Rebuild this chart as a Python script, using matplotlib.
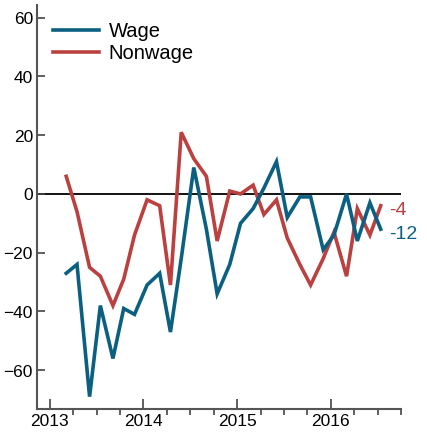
import matplotlib
matplotlib.use('Agg')
import matplotlib.pyplot as plt
import numpy as np
from datetime import date

plt.rcParams['font.family'] = ['Liberation Sans', 'DejaVu Sans']

# Beige Book release dates (8 per year)
dates = [
    '2013-03-06', '2013-04-17', '2013-06-05', '2013-07-17', '2013-09-04', '2013-10-16', '2013-11-27',
    '2014-01-15', '2014-03-05', '2014-04-16', '2014-05-28', '2014-07-16', '2014-09-03', '2014-10-15', '2014-12-03',
    '2015-01-14', '2015-03-04', '2015-04-15', '2015-06-03', '2015-07-15', '2015-09-02', '2015-10-14', '2015-12-02',
    '2016-01-13', '2016-03-02', '2016-04-13', '2016-06-01', '2016-07-13',
]
wage = [-27, -24, -69, -38, -56, -39, -41,
        -31, -27, -47, -22, 9, -12, -34, -24,
        -10, -5, 2, 11, -8, -1, -1,
        -19, -14, 0, -16, -3, -12]
nonwage = [6, -6, -25, -28, -38, -29, -14,
           -2, -4, -31, 21, 12, 6, -16, 1,
           0, 3, -7, -2, -15, -24, -31,
           -22, -13, -28, -5, -14, -4]
year_ticks = [2013, 2014, 2015, 2016]
wage_color = '#0b6082'
nonwage_color = '#bb4141'


def dec_year(s):
    d = date.fromisoformat(s)
    start = date(d.year, 1, 1)
    return d.year + (d - start).days / 365.0


x = np.array([dec_year(s) for s in dates])

fig = plt.figure(figsize=(4.275, 4.335), dpi=100)
ax = fig.add_axes([37 / 427, 1 - 409 / 433, (400.7 - 37) / 427, (409 - 5) / 433])

ax.axhline(0, color='black', lw=1.3, zorder=1)
ax.plot(x, wage, color=wage_color, lw=2.6, label='Wage', solid_joinstyle='miter', zorder=3)
ax.plot(x, nonwage, color=nonwage_color, lw=2.6, label='Nonwage', solid_joinstyle='miter', zorder=2)

ax.set_xlim(2012.864, 2016.665)
ax.set_ylim(-73.2, 64.5)

# end labels
ax.text(x[-1] + 0.09, nonwage[-1] - 1.5, str(nonwage[-1]), color=nonwage_color,
        fontsize=14, va='center', ha='left', clip_on=False)
ax.text(x[-1] + 0.09, wage[-1] - 1.5, str(wage[-1]), color=wage_color,
        fontsize=14, va='center', ha='left', clip_on=False)

ax.set_yticks(np.arange(-60, 61, 20))
ax.set_xticks(year_ticks)
ax.set_xticklabels([str(y) for y in year_ticks])
ax.set_xticks(np.arange(2013, 2016.76, 0.25), minor=True)
ax.tick_params(axis='both', direction='in', labelsize=12.5, color='#444444', width=1.2)
ax.tick_params(axis='y', length=6, pad=3)
ax.tick_params(axis='x', which='major', length=7, pad=3)
ax.tick_params(axis='x', which='minor', length=4, width=1.2, color='#444444')

for side in ['top', 'right']:
    ax.spines[side].set_visible(False)
for side in ['left', 'bottom']:
    ax.spines[side].set_color('#555555')
    ax.spines[side].set_linewidth(1.5)

ax.legend(loc='upper left', bbox_to_anchor=(0.044, 0.957), frameon=False, fontsize=14.5,
          handlelength=2.3, handletextpad=0.45, labelspacing=0.15, borderpad=0,
          borderaxespad=0)

fig.savefig('out.png', dpi=100)
